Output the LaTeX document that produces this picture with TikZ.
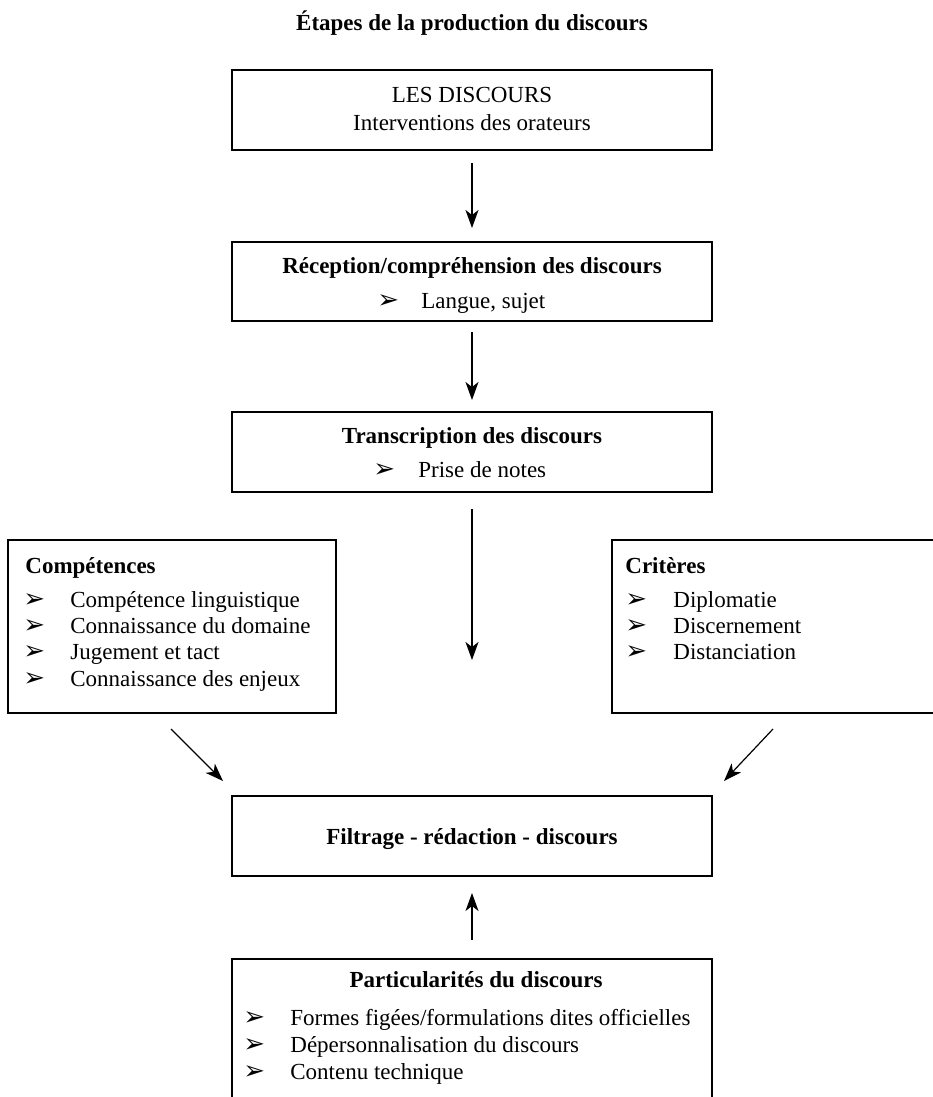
\documentclass[tikz,border=0pt]{standalone}
\usepackage{fontspec}
\setmainfont{Liberation Serif}
\newfontfamily\symfont{DejaVu Sans}
\usetikzlibrary{arrows.meta}
\newcommand\arrbul{{\symfont\fontsize{13}{14}\selectfont\symbol{"27A2}}}
\begin{document}
\begin{tikzpicture}[x=0.5pt,y=-0.5pt,
  every node/.style={font=\fontsize{11.5}{14}\selectfont},
  box/.style={draw, line width=0.6pt, inner sep=0pt, outer sep=0pt, anchor=north west},
  frame/.style={inner sep=0pt, outer sep=0pt, anchor=north west},
  side/.style={line width=0.6pt},
  txt/.style={inner sep=0pt, anchor=base west},
  ctxt/.style={inner sep=0pt, anchor=base},
  hd/.style={font=\fontsize{11.5}{14}\selectfont\bfseries},
  arr/.style={-{Stealth[length=9pt,width=6.5pt,inset=2.5pt]}, line width=0.6pt},
]
\useasboundingbox (0,0) rectangle (932,1097);

% title
\node[ctxt,hd] (title) at (472,31) {Étapes de la production du discours};

% box 1
\node[box, minimum width=240pt, minimum height=40pt] (b1) at (232,70) {};
\node[ctxt] (b1a) at (472,103) {LES DISCOURS};
\node[ctxt] (b1b) at (472,131) {Interventions des orateurs};

% box 2
\node[box, minimum width=240pt, minimum height=39.5pt] (b2) at (232,242) {};
\node[ctxt,hd] (b2a) at (472,273) {Réception/compréhension des discours};
\node[txt] (b2bul) at (377,308) {\arrbul};
\node[txt] (b2b) at (421,308) {Langue, sujet};

% box 3
\node[box, minimum width=240pt, minimum height=40pt] (b3) at (232,412) {};
\node[ctxt,hd] (b3a) at (472,443) {Transcription des discours};
\node[txt] (b3bul) at (373,477) {\arrbul};
\node[txt] (b3b) at (418,477) {Prise de notes};

% left box: Compétences
\node[box, minimum width=164pt, minimum height=86.5pt] (lb) at (8,540) {};
\node[txt,hd] (lbh) at (25,573) {Compétences};
\foreach \i/\t [count=\k] in {607/Compétence linguistique,633/Connaissance du domaine,659/Jugement et tact,686/Connaissance des enjeux}{
  \node[txt] (lbbul\k) at (23,\i) {\arrbul};
  \node[txt] (lbt\k) at (70,\i) {\t};
}

% right box: Critères (open on the right)
\node[frame, minimum width=164pt, minimum height=86.5pt] (rb) at (612,540) {};
\draw[side] (rb.north east) -- (rb.north west) -- (rb.south west) -- (rb.south east);
\node[txt,hd] (rbh) at (625,573) {Critères};
\foreach \i/\t [count=\k] in {607/Diplomatie,633/Discernement,659/Distanciation}{
  \node[txt] (rbbul\k) at (625,\i) {\arrbul};
  \node[txt] (rbt\k) at (673,\i) {\t};
}

% box 4
\node[box, minimum width=240pt, minimum height=40pt] (b4) at (232,796) {};
\node[ctxt,hd] (b4a) at (472,844) {Filtrage - rédaction - discours};

% box 5 (open at the bottom)
\node[frame, minimum width=240pt, minimum height=72pt] (b5) at (232,959) {};
\draw[side] (b5.south west) -- (b5.north west) -- (b5.north east) -- (b5.south east);
\node[ctxt,hd] (b5a) at (476,987) {Particularités du discours};
\foreach \i/\t [count=\k] in {1025/{Formes figées/formulations dites officielles},1052/{Dépersonnalisation du discours},1079/{Contenu technique}}{
  \node[txt] (b5bul\k) at (243,\i) {\arrbul};
  \node[txt] (b5t\k) at (290,\i) {\t};
}

% connectors
\draw[arr, shorten <=6.5pt, shorten >=7pt] (b1) -- (b2);
\draw[arr, shorten <=5.5pt, shorten >=6pt] (b2) -- (b3);
\draw[arr, shorten <=8.5pt, shorten >=68pt] (b3) -- (b4);
\draw[arr, shorten <=9.5pt, shorten >=8.5pt] (b5.north) -- (b4.south -| b5.north);
\coordinate (ls) at (171,729);
\coordinate (le) at (223,781);
\coordinate (rs) at (773,729);
\coordinate (re) at (724,781);
\draw[arr] (ls) -- (le);
\draw[arr] (rs) -- (re);
\end{tikzpicture}
\end{document}
